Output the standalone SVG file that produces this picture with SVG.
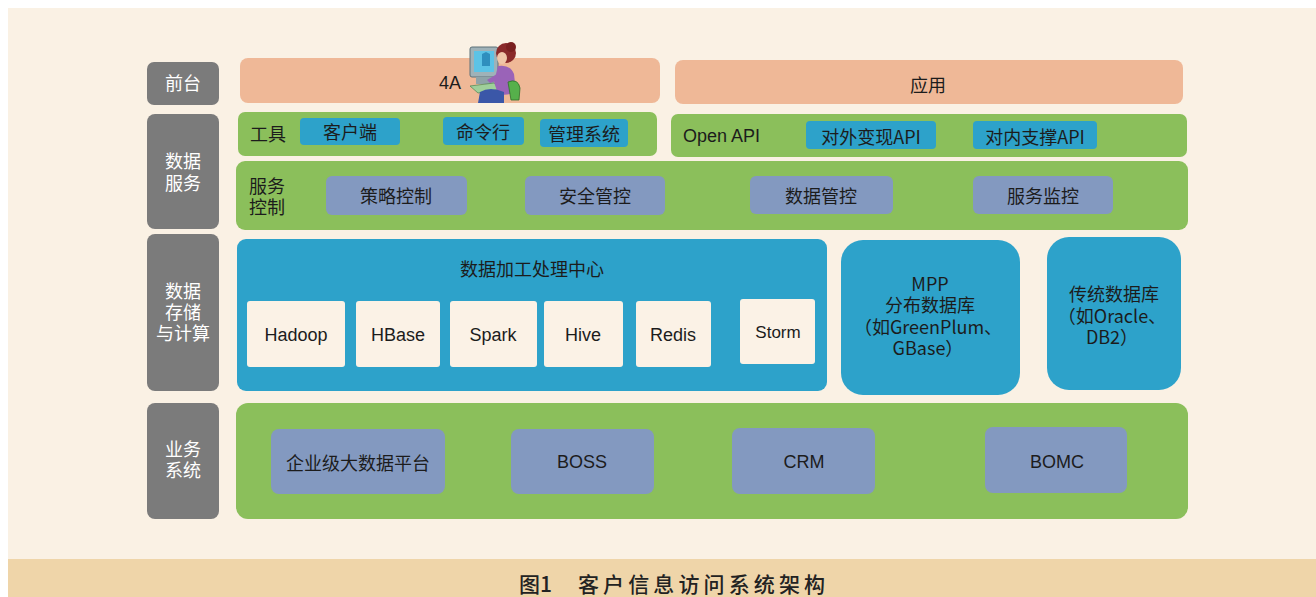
<svg xmlns="http://www.w3.org/2000/svg" width="1316" height="597" viewBox="0 0 1316 597">
  <style>
    .t { font-family: "Noto Sans CJK SC", "Noto Sans", sans-serif; font-size: 18px; fill: #1c1c1c; text-anchor: middle; dominant-baseline: central; }
    .lat { font-family: "Liberation Sans", "Noto Sans CJK SC", sans-serif; }
    .side { fill: #7b7b7b; }
    .sideT { font-family: "Noto Sans CJK SC", sans-serif; font-size: 18px; fill: #ffffff; text-anchor: middle; }
    .ml { font-family: "Noto Sans CJK SC", "Noto Sans", sans-serif; font-size: 18px; fill: #1c1c1c; text-anchor: middle; }
    .peach { fill: #efb897; }
    .green { fill: #8bbf5b; }
    .blue { fill: #2da2ca; }
    .slate { fill: #8399c0; }
    .cream { fill: #fbf2e6; }
  </style>

  <!-- page -->
  <rect x="0" y="0" width="1316" height="597" fill="#ffffff"/>
  <rect x="8" y="8" width="1308" height="552" fill="#faf1e4"/>
  <rect x="8" y="559" width="1308" height="38" fill="#efd5a9"/>

  <!-- layer labels -->
  <g id="label-front">
    <rect class="side" x="147" y="62" width="72" height="43" rx="7"/>
    <text class="sideT" x="183" y="90">前台</text>
  </g>
  <g id="label-dataservice">
    <rect class="side" x="147" y="114" width="72" height="115" rx="8"/>
    <text class="sideT" x="183" y="168">数据<tspan x="183" dy="22">服务</tspan></text>
  </g>
  <g id="label-storage">
    <rect class="side" x="147" y="234" width="72" height="157" rx="8"/>
    <text class="sideT" x="183" y="298">数据<tspan x="183" dy="21">存储</tspan><tspan x="183" dy="21">与计算</tspan></text>
  </g>
  <g id="label-business">
    <rect class="side" x="147" y="403" width="72" height="116" rx="8"/>
    <text class="sideT" x="183" y="456">业务<tspan x="183" dy="21">系统</tspan></text>
  </g>

  <!-- front layer -->
  <g id="node-4a">
    <rect class="peach" x="240" y="58" width="420" height="45" rx="8"/>
    <text class="t lat" x="450" y="83">4A</text>
  </g>
  <g id="icon-user">
    <!-- monitor -->
    <rect x="470" y="47" width="28" height="30" rx="2" fill="#9fb2b8" stroke="#5d7078" stroke-width="1"/>
    <rect x="474" y="51" width="20" height="21" fill="#5cc3e6"/>
    <path d="M482 54 l4 -2 l4 2 v12 h-8 z" fill="#2f8fbe"/>
    <rect x="476" y="77" width="18" height="7" fill="#8fa3a8"/>
    <!-- keyboard -->
    <path d="M470 86 l24 -3 l8 6 l-24 4 z" fill="#9fcf9a" stroke="#5a8a5a" stroke-width="0.8"/>
    <!-- hair and head -->
    <circle cx="506" cy="53" r="10" fill="#8a2a2a"/>
    <circle cx="511" cy="47" r="5" fill="#7a2020"/>
    <ellipse cx="502" cy="58" rx="5" ry="6" fill="#f0c6a8"/>
    <!-- body -->
    <path d="M498 66 q12 -2 16 8 l2 18 q-8 4 -18 2 l-4 -12 z" fill="#9a63b8"/>
    <path d="M497 74 l-10 6 l3 3 l11 -4 z" fill="#9a63b8"/>
    <!-- chair -->
    <path d="M508 82 q10 -4 12 6 l-1 12 h-8 z" fill="#56b04b" stroke="#2f6f2a" stroke-width="0.8"/>
    <!-- legs -->
    <path d="M480 92 q10 -6 24 0 l0 11 h-26 z" fill="#3b57a8"/>
  </g>
  <g id="node-app">
    <rect class="peach" x="675" y="60" width="508" height="44" rx="8"/>
    <text class="t" x="928" y="84">应用</text>
  </g>

  <!-- data service layer -->
  <g id="node-tools">
    <rect class="green" x="238" y="112" width="419" height="44" rx="7"/>
    <text class="t" x="268" y="133">工具</text>
    <rect class="blue" x="300" y="118" width="100" height="27" rx="4"/>
    <text class="t" x="350" y="131">客户端</text>
    <rect class="blue" x="443" y="117" width="81" height="28" rx="4"/>
    <text class="t" x="483" y="131">命令行</text>
    <rect class="blue" x="540" y="119" width="88" height="28" rx="4"/>
    <text class="t" x="584" y="133">管理系统</text>
  </g>
  <g id="node-openapi">
    <rect class="green" x="671" y="114" width="516" height="43" rx="7"/>
    <text class="t lat" x="683" y="136" style="text-anchor:start">Open API</text>
    <rect class="blue" x="806" y="121" width="130" height="28" rx="4"/>
    <text class="t" x="871" y="136">对外变现API</text>
    <rect class="blue" x="973" y="121" width="124" height="28" rx="4"/>
    <text class="t" x="1035" y="136">对内支撑API</text>
  </g>
  <g id="node-servicecontrol">
    <rect class="green" x="236" y="161" width="952" height="69" rx="9"/>
    <text class="ml" x="267" y="193">服务<tspan x="267" dy="21">控制</tspan></text>
    <rect class="slate" x="326" y="176" width="141" height="39" rx="6"/>
    <text class="t" x="396" y="195">策略控制</text>
    <rect class="slate" x="525" y="176" width="140" height="39" rx="6"/>
    <text class="t" x="595" y="195">安全管控</text>
    <rect class="slate" x="750" y="176" width="143" height="38" rx="6"/>
    <text class="t" x="821" y="195">数据管控</text>
    <rect class="slate" x="973" y="176" width="140" height="38" rx="6"/>
    <text class="t" x="1043" y="195">服务监控</text>
  </g>

  <!-- storage and compute layer -->
  <g id="node-processing">
    <rect class="blue" x="237" y="239" width="590" height="152" rx="9"/>
    <text class="t" x="532" y="268">数据加工处理中心</text>
    <rect class="cream" x="247" y="301" width="98" height="66" rx="3"/>
    <text class="t lat" x="296" y="335">Hadoop</text>
    <rect class="cream" x="356" y="301" width="84" height="66" rx="3"/>
    <text class="t lat" x="398" y="335">HBase</text>
    <rect class="cream" x="450" y="301" width="87" height="66" rx="3"/>
    <text class="t lat" x="493" y="335">Spark</text>
    <rect class="cream" x="544" y="301" width="79" height="66" rx="3"/>
    <text class="t lat" x="583" y="335">Hive</text>
    <rect class="cream" x="636" y="301" width="75" height="66" rx="3"/>
    <text class="t lat" x="673" y="335">Redis</text>
    <rect class="cream" x="740" y="299" width="75" height="65" rx="3"/>
    <text class="t lat" x="778" y="332" style="font-size:17px">Storm</text>
  </g>
  <g id="node-mpp">
    <rect class="blue" x="841" y="240" width="179" height="155" rx="22"/>
    <text class="ml" x="930" y="291">MPP<tspan x="930" dy="21">分布数据库</tspan><tspan x="928" dy="22">（如GreenPlum、</tspan><tspan x="928" dy="21">GBase）</tspan></text>
  </g>
  <g id="node-legacydb">
    <rect class="blue" x="1047" y="237" width="134" height="153" rx="22"/>
    <text class="ml" x="1114" y="301">传统数据库<tspan x="1112" dy="22">（如Oracle、</tspan><tspan x="1112" dy="21">DB2）</tspan></text>
  </g>

  <!-- business layer -->
  <g id="node-business">
    <rect class="green" x="236" y="403" width="952" height="116" rx="12"/>
    <rect class="slate" x="271" y="429" width="174" height="65" rx="8"/>
    <text class="t" x="358" y="462">企业级大数据平台</text>
    <rect class="slate" x="511" y="429" width="143" height="65" rx="8"/>
    <text class="t lat" x="582" y="462">BOSS</text>
    <rect class="slate" x="732" y="428" width="143" height="66" rx="8"/>
    <text class="t lat" x="804" y="462">CRM</text>
    <rect class="slate" x="985" y="427" width="142" height="66" rx="8"/>
    <text class="t lat" x="1057" y="462">BOMC</text>
  </g>

  <!-- the layers are stacked; no connecting lines are drawn -->
  <g id="connectors"/>

  <!-- caption -->
  <g id="caption" style="font-family: 'Noto Sans CJK SC', sans-serif; font-weight: 500; font-size: 21px; fill: #222;">
    <text x="519" y="592">图1</text>
    <text x="578" y="592" textLength="247" lengthAdjust="spacing">客户信息访问系统架构</text>
  </g>
</svg>
